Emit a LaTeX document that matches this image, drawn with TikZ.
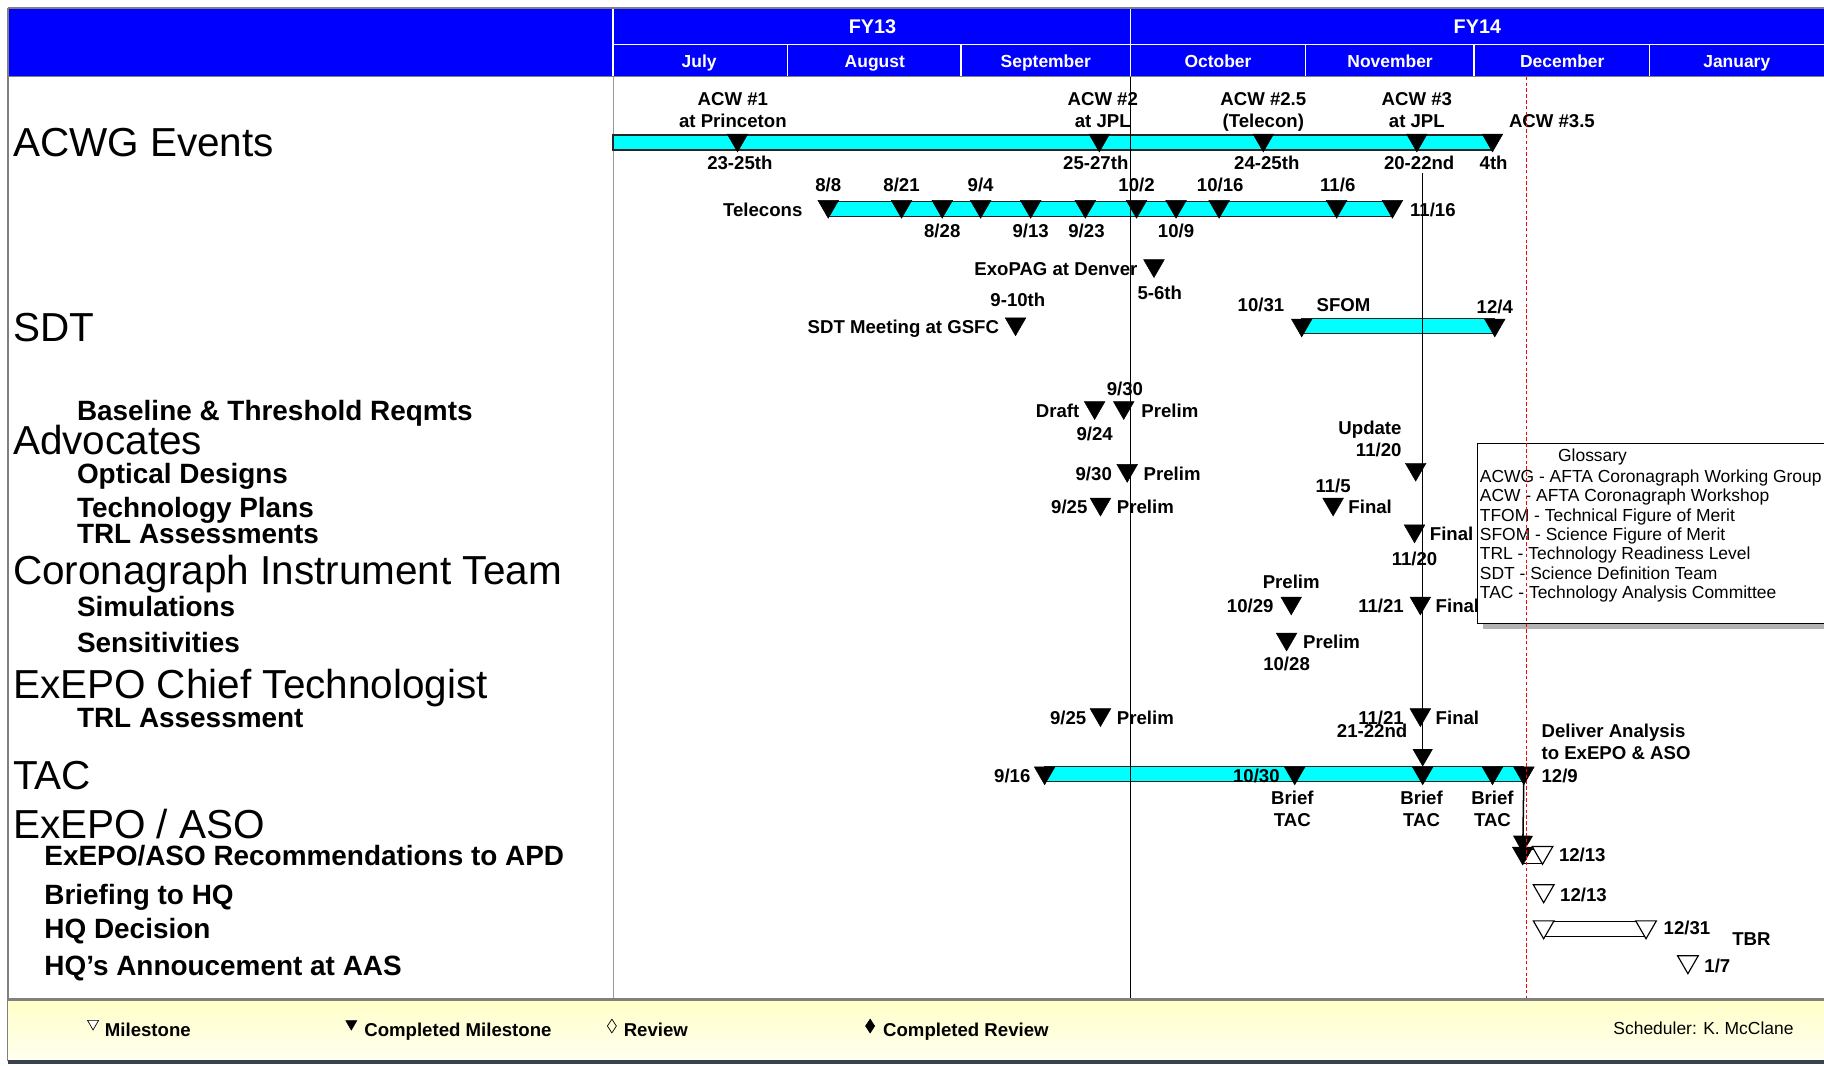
\documentclass[tikz,border=0pt]{standalone}
\usepackage{fontspec}
\setmainfont{Liberation Sans}
\usetikzlibrary{arrows.meta,shapes.geometric}
\definecolor{hdrblue}{RGB}{0,0,255}
\definecolor{barcyan}{RGB}{0,255,255}
\definecolor{keyedge}{RGB}{58,66,80}
\begin{document}
\begin{tikzpicture}[x=1pt,y=-1pt,
  done/.style={regular polygon,regular polygon sides=3,shape border rotate=180,fill=black,draw=black,line width=0.4pt,inner sep=0pt,minimum size=20.5pt,anchor=corner 1},
  todo/.style={done,fill=white,line width=1pt},
  keydone/.style={done,minimum size=11pt},
  keytodo/.style={keydone,fill=white,line width=0.6pt},
  keyrev/.style={diamond,draw=black,line width=0.6pt,inner sep=0pt,minimum width=8pt,minimum height=12pt},
  lbl/.style={font=\bfseries\fontsize{16}{19}\selectfont,inner sep=0pt,text height=11.5pt,text depth=0pt},
  lbltwo/.style={font=\bfseries\fontsize{16}{19}\selectfont,inner sep=0pt,align=center,anchor=north},
  grp/.style={font=\fontsize{34.8}{40}\selectfont,inner sep=0pt,text height=24.9pt,text depth=0pt,anchor=west},
  task/.style={font=\bfseries\fontsize{24}{28}\selectfont,inner sep=0pt,text height=17.2pt,text depth=0pt,anchor=west},
  hdr/.style={font=\bfseries\fontsize{17}{20}\selectfont,text=white,inner sep=0pt,text height=12.2pt,text depth=0pt},
  glos/.style={font=\fontsize{15}{16.7}\selectfont,inner sep=0pt},
  bar/.style={fill=barcyan,draw=black!85,line width=1pt},
  link/.style={draw=black,line width=1.3pt,-{Triangle[length=15pt,width=17pt]}}]
\fill[white] (0,0) rectangle (1568,916);
\useasboundingbox (0,0) rectangle (1568,916);
\fill[hdrblue] (7,8) rectangle (1568,66);
\draw[white,line width=1.2pt] (527,38)--(1568,38) (527,8)--(527,66) (972,8)--(972,66);
\foreach \x in {677,826,1122,1267,1418}{\draw[white,line width=1.2pt] (\x,38)--(\x,66);}
\node[hdr] (fy13) at (750,23) {FY13};
\node[hdr] (fy14) at (1270,23) {FY14};
\foreach \x/\m [count=\i] in {601/July,752/August,899/September,1047/October,1195/November,1343/December,1493/January}
  {\node[hdr,font=\bfseries\fontsize{15}{18}\selectfont,text height=10.8pt] (mon\i) at (\x,53) {\m};}
\draw[gray,line width=1.5pt] (7,7)--(1568,7) (7,7)--(7,912);
\draw[gray,line width=1pt] (7,66)--(1568,66);
\draw[gray!80] (527,66)--(527,858);
\node[grp] (gacwg) at (11,122) {ACWG Events};
\node[grp] (gsdt) at (11,281) {SDT};
\node[grp] (gadv) at (11,378) {Advocates};
\node[grp] (gcit) at (11,490) {Coronagraph Instrument Team};
\node[grp] (gchief) at (11,588) {ExEPO Chief Technologist};
\node[grp] (gtac) at (11,666) {TAC};
\node[grp] (gaso) at (11,708) {ExEPO / ASO};
\foreach \y/\t [count=\i] in {353/{Baseline \& Threshold Reqmts},407/{Optical Designs},436/{Technology Plans},459/{TRL Assessments},521/{Simulations},552/{Sensitivities},617/{TRL Assessment}}
  {\node[task] (tk\i) at (66,\y) {\t};}
\foreach \y/\t [count=\i] in {735/{ExEPO/ASO Recommendations to APD},769/{Briefing to HQ},798/{HQ Decision},830/{HQ's Annoucement at AAS}}
  {\node[task] (hq\i) at (38,\y) {\t};}
\draw[bar] (527,116) rectangle (1283,129);
\draw[bar] (712,173) rectangle (1197,186);
\draw[bar] (1119,274) rectangle (1285,287);
\draw[bar] (898,659) rectangle (1310,672);
\draw[fill=white,line width=0.8pt] (1309,730) rectangle (1325,742);
\draw[fill=white,line width=1pt] (1327,792) rectangle (1415,805);
\foreach \x [count=\i] in {634,945,1086,1218,1283}{\node[done] (a\i) at (\x,131) {};}
\foreach \x [count=\i] in {712,775,810,843,886,933,977,1011,1048,1149,1197}{\node[done] (tel\i) at (\x,188) {};}
\node[done] (exo) at (992,239) {};
\node[done] (sdtm) at (873,289) {};
\node[done] (sfom1) at (1119,290) {};
\node[done] (sfom2) at (1285,290) {};
\node[done] (bdraft) at (941,361) {};
\node[done] (bprelim) at (966,361) {};
\node[done] (upd) at (1217,414) {};
\node[done] (opt) at (969,415) {};
\node[done] (tech1) at (946,444) {};
\node[done] (tech2) at (1146,444) {};
\node[done] (trls) at (1216,467) {};
\node[done] (sim1) at (1110,529) {};
\node[done] (sim2) at (1221,529) {};
\node[done] (sens) at (1106,560) {};
\node[done] (trl1) at (946,625) {};
\node[done] (trl2) at (1221,625) {};
\foreach \x [count=\i] in {898,1113,1223,1283,1310}{\node[done] (tac\i) at (\x,675) {};}
\node[done] (rec1) at (1309,744) {};
\node[todo] (rec2) at (1326,744) {};
\node[todo] (brief) at (1327,777) {};
\node[todo] (dec1) at (1327,808) {};
\node[todo] (dec2) at (1415,808) {};
\node[todo] (aas) at (1451,838) {};
\node[lbltwo] (acw1) at (630,79) {ACW \#1\\at Princeton};
\node[lbltwo] (acw2) at (948,79) {ACW \#2\\at JPL};
\node[lbltwo] (acw25) at (1086,79) {ACW \#2.5\\(Telecon)};
\node[lbltwo] (acw3) at (1218,79) {ACW \#3\\at JPL};
\node[lbl,anchor=west] (acw35) at (1297,104) {ACW \#3.5};
\foreach \x/\t [count=\i] in {636/23-25th,942/25-27th,1089/24-25th,1220/20-22nd,1284/4th}{\node[lbl] (day\i) at (\x,140) {\t};}
\node[lbl,anchor=east] (telname) at (690,180) {Telecons};
\foreach \x/\t [count=\i] in {712/{8/8},775/{8/21},843/{9/4},977/{10/2},1049/{10/16},1150/{11/6}}{\node[lbl] (telup\i) at (\x,159) {\t};}
\foreach \x/\t [count=\i] in {810/{8/28},886/{9/13},934/{9/23},1011/{10/9}}{\node[lbl] (teldn\i) at (\x,198) {\t};}
\node[lbl,anchor=west] (telend) at (1212,180) {11/16};
\node[lbl,anchor=east] (exoname) at (978,231) {ExoPAG at Denver};
\node[lbl] (exoday) at (997,252) {5-6th};
\node[lbl] (sdtday) at (875,258) {9-10th};
\node[lbl,anchor=east] (sdtname) at (859,281) {SDT Meeting at GSFC};
\node[lbl] (sfomst) at (1084,262) {10/31};
\node[lbl] (sfomname) at (1155,262) {SFOM};
\node[lbl] (sfomend) at (1285,264) {12/4};
\node[lbl] (bdate2) at (967,334) {9/30};
\node[lbl,anchor=east] (bdraftl) at (928,353) {Draft};
\node[lbl,anchor=west] (bprelimi) at (981,353) {Prelim};
\node[lbl] (bdate1) at (941,373) {9/24};
\node[lbltwo,align=right,anchor=north east] (updl) at (1205,362) {Update\\11/20};
\node[lbl,anchor=east] (optd) at (956,407) {9/30};
\node[lbl,anchor=west] (optl) at (983,407) {Prelim};
\node[lbl,anchor=east] (tech1d) at (935,436) {9/25};
\node[lbl,anchor=west] (tech1l) at (960,436) {Prelim};
\node[lbl] (tech2d) at (1146,418) {11/5};
\node[lbl,anchor=west] (tech2l) at (1159,436) {Final};
\node[lbl,anchor=west] (trlsl) at (1229,459) {Final};
\node[lbl] (trlsd) at (1216,480) {11/20};
\node[lbl] (sim1l) at (1110,500) {Prelim};
\node[lbl,anchor=east] (sim1d) at (1095,521) {10/29};
\node[lbl,anchor=east] (sim2d) at (1207,521) {11/21};
\node[lbl,anchor=west] (sim2l) at (1234,521) {Final};
\node[lbl,anchor=west] (sensl) at (1120,552) {Prelim};
\node[lbl] (sensd) at (1106,571) {10/28};
\node[lbl,anchor=east] (trl1d) at (934,617) {9/25};
\node[lbl,anchor=west] (trl1l) at (960,617) {Prelim};
\node[lbl,anchor=east] (trl2d) at (1207,617) {11/21};
\node[lbl,anchor=west] (trl2l) at (1234,617) {Final};
\node[lbl,anchor=east] (tacday) at (1210,628) {21-22nd};
\node[lbl,anchor=east] (tacst) at (886,667) {9/16};
\node[lbl] (tacmid) at (1080,667) {10/30};
\node[lbl,anchor=west] (tacend) at (1325,667) {12/9};
\node[lbltwo,align=left,anchor=north west] (deliver) at (1325,622) {Deliver Analysis\\to ExEPO \& ASO};
\foreach \x [count=\i] in {1111,1222,1283}{\node[lbltwo] (brf\i) at (\x,680) {Brief\\TAC};}
\node[lbl,anchor=west] (recd) at (1340,735) {12/13};
\node[lbl,anchor=west] (briefd) at (1341,769) {12/13};
\node[lbl,anchor=west] (decd) at (1430,798) {12/31};
\node[lbl,anchor=west] (tbr) at (1489,807) {TBR};
\node[lbl,anchor=west] (aasd) at (1465,830) {1/7};
\fill[black!30] (1275,386) rectangle (1590,541);
\draw[fill=white,line width=0.8pt] (1270,381) rectangle (1585,536);
\node[glos] (gtitle) at (1369,393) {Glossary};
\node[glos,align=left,anchor=north west] (gbody) at (1272,403.5) {ACWG - AFTA Coronagraph Working Group\\ACW - AFTA Coronagraph Workshop\\TFOM - Technical Figure of Merit\\SFOM - Science Figure of Merit\\TRL - Technology Readiness Level\\SDT - Science Definition Team\\TAC - Technology Analysis Committee};
\draw[black,line width=0.8pt] (972,66)--(972,858);
\draw[link,shorten <=3pt] (day4.south -| tac3.north) -- (tac3.north);
\draw[link] (tac5.center) -- (rec1.center);
\draw[red,line width=0.8pt,dash pattern=on 3pt off 2pt] (1312,66)--(1312,858);
\shade[top color=yellow!22,bottom color=yellow!6] (7,859) rectangle (1568,912);
\draw[gray,line width=2.5pt] (7,859)--(1568,859);
\draw[keyedge,line width=3pt] (7,913)--(1568,913);
\node[keytodo] (kms) at (80,886) {};
\node[keydone] (kcms) at (302,886) {};
\node[keyrev] (krev) at (526,882) {};
\node[keyrev,fill=black] (kcrev) at (748,882) {};
\node[lbl,anchor=west] (kmsl) at (90,885) {Milestone};
\node[lbl,anchor=west] (kcmsl) at (313,885) {Completed Milestone};
\node[lbl,anchor=west] (krevl) at (536,885) {Review};
\node[lbl,anchor=west] (kcrevl) at (759,885) {Completed Review};
\node[glos,anchor=east,text height=10.7pt,text depth=0pt] (sched) at (1542,884) {Scheduler: K. McClane};
\end{tikzpicture}
\end{document}
